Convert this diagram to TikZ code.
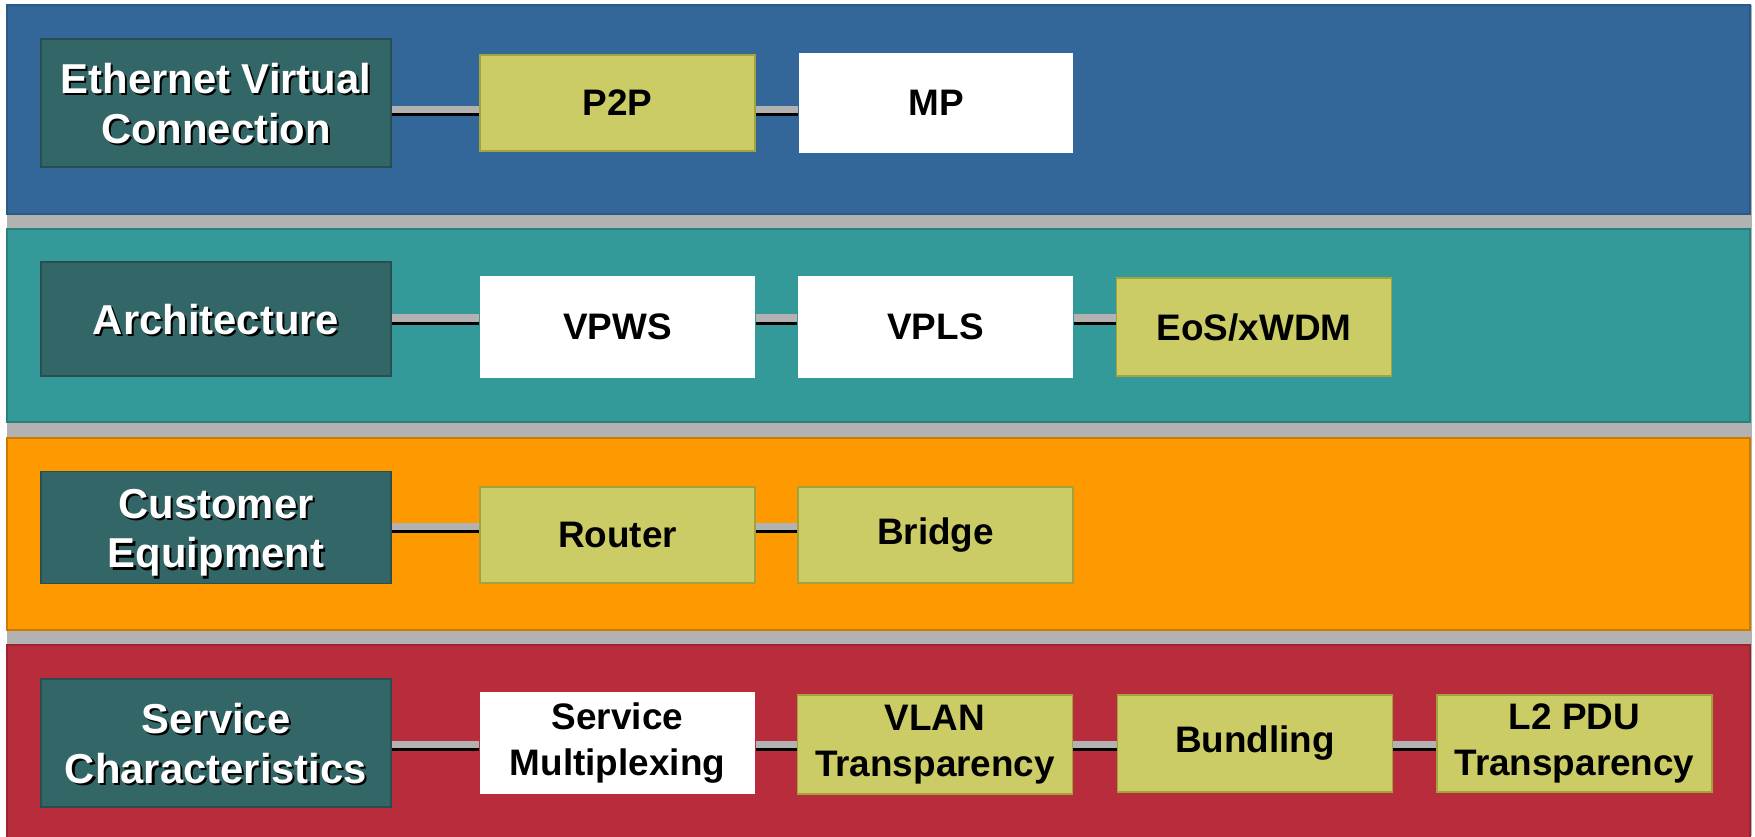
\documentclass[tikz,border=0pt]{standalone}
\usepackage{fontspec}
\setmainfont{Liberation Sans}
\usetikzlibrary{positioning}

\definecolor{bandblue}{HTML}{336699}
\definecolor{bandblueedge}{HTML}{2C5A87}
\definecolor{bandteal}{HTML}{339999}
\definecolor{bandtealedge}{HTML}{2A7F7F}
\definecolor{bandorange}{HTML}{FF9900}
\definecolor{bandorangeedge}{HTML}{CC7A00}
\definecolor{bandred}{HTML}{B92C3C}
\definecolor{bandrededge}{HTML}{9A2432}
\definecolor{sepgray}{HTML}{B2B2B2}
\definecolor{catgreen}{HTML}{336666}
\definecolor{catedge}{HTML}{284F4F}
\definecolor{olivefill}{HTML}{CCCC66}
\definecolor{oliveedge}{HTML}{A3A33D}

% white label with a black drop shadow
\newcommand{\castext}[1]{%
  \raisebox{-3.8pt}[\height][\depth]{%
  \makebox[0pt][l]{\hspace{1.2pt}\raisebox{-1.2pt}{\color{black}\begin{tabular}{@{}c@{}}#1\end{tabular}}}%
  \begin{tabular}{@{}c@{}}#1\end{tabular}}}

% connector: grey bar with a black edge under it
\newcommand{\connect}[3]{%
  \draw [linkshade] (#1.east |- #3) -- (#2.west |- #3);
  \draw [link] (#1.east |- #3) -- (#2.west |- #3);}

\begin{document}
\begin{tikzpicture}[x=0.02cm, y=-0.02cm,
    cat/.style={draw=catedge, fill=catgreen, line width=0.8pt, minimum width=7cm,
      inner sep=0pt, text=white, font=\fontsize{23.8}{28.3}\selectfont\bfseries},
    item/.style={line width=0.8pt, minimum width=5.5cm, minimum height=2cm, inner sep=0pt,
      align=center, font=\fontsize{21}{26}\selectfont\bfseries},
    olive/.style={item, draw=oliveedge, fill=olivefill},
    blank/.style={item, fill=white},
    link/.style={draw=sepgray, line width=4.25pt},
    linkshade/.style={draw=black, line width=4.25pt, transform canvas={yshift=-1.7pt}}]
      \useasboundingbox (0, 0) rectangle (1755, 836);

      % bands
      \fill[sepgray] (7, 5) rectangle (1752, 836);
      \filldraw[fill=bandblue, draw=bandblueedge, line width=0.8pt] (7, 5) rectangle (1750, 214);
      \filldraw[fill=bandteal, draw=bandtealedge, line width=0.8pt] (7, 229) rectangle (1750, 422);
      \filldraw[fill=bandorange, draw=bandorangeedge, line width=0.8pt] (7, 438) rectangle (1750, 630);
      \filldraw[fill=bandred, draw=bandrededge, line width=0.8pt] (7, 645) rectangle (1750, 840);

      \coordinate (r1) at (0, 109.5);
      \coordinate (r2) at (0, 318);
      \coordinate (r3) at (0, 526.5);
      \coordinate (r4) at (0, 744.5);

      % Ethernet virtual connection
      \node [cat, minimum height=2.56cm] (evc) at (216, 103) {\castext{Ethernet Virtual\\Connection}};
      \node [olive, minimum height=1.92cm] (ptp) at (617.5, 103) {P2P};
      \node [blank] (mp) at (936, 103) {MP};
      \connect{evc}{ptp}{r1}
      \connect{ptp}{mp}{r1}

      % architecture
      \node [cat, minimum height=2.28cm] (arch) at (216, 319) {\castext{Architecture}};
      \node [blank, minimum height=2.04cm] (vpws) at (617.5, 327) {VPWS};
      \node [blank, minimum height=2.04cm] (vpls) at (935.5, 327) {VPLS};
      \node [olive, minimum height=1.96cm] (eos) at (1254, 327) {EoS/xWDM};
      \connect{arch}{vpws}{r2}
      \connect{vpws}{vpls}{r2}
      \connect{vpls}{eos}{r2}

      % customer equipment
      \node [cat, minimum height=2.24cm] (cust) at (216, 527.5) {\castext{Customer\\Equipment}};
      \node [olive, minimum height=1.92cm] (router) at (617.5, 535) {Router};
      \node [olive, minimum height=1.92cm] (bridge) at (935.5, 535) {Bridge};
      \connect{cust}{router}{r3}
      \connect{router}{bridge}{r3}

      % service characteristics
      \node [cat, minimum height=2.56cm] (svc) at (216, 743) {\castext{Service\\Characteristics}};
      \node [blank, minimum height=2.04cm] (smux) at (617.5, 743) {Service\\Multiplexing};
      \node [olive, minimum height=1.98cm] (vlan) at (935, 744.5) {VLAN\\Transparency};
      \node [olive, minimum height=1.94cm] (bund) at (1255, 743.5) {Bundling};
      \node [olive, minimum height=1.94cm] (l2pdu) at (1574.5, 743.5) {L2 PDU\\Transparency};
      \connect{svc}{smux}{r4}
      \connect{smux}{vlan}{r4}
      \connect{vlan}{bund}{r4}
      \connect{bund}{l2pdu}{r4}
    \end{tikzpicture}
\end{document}
